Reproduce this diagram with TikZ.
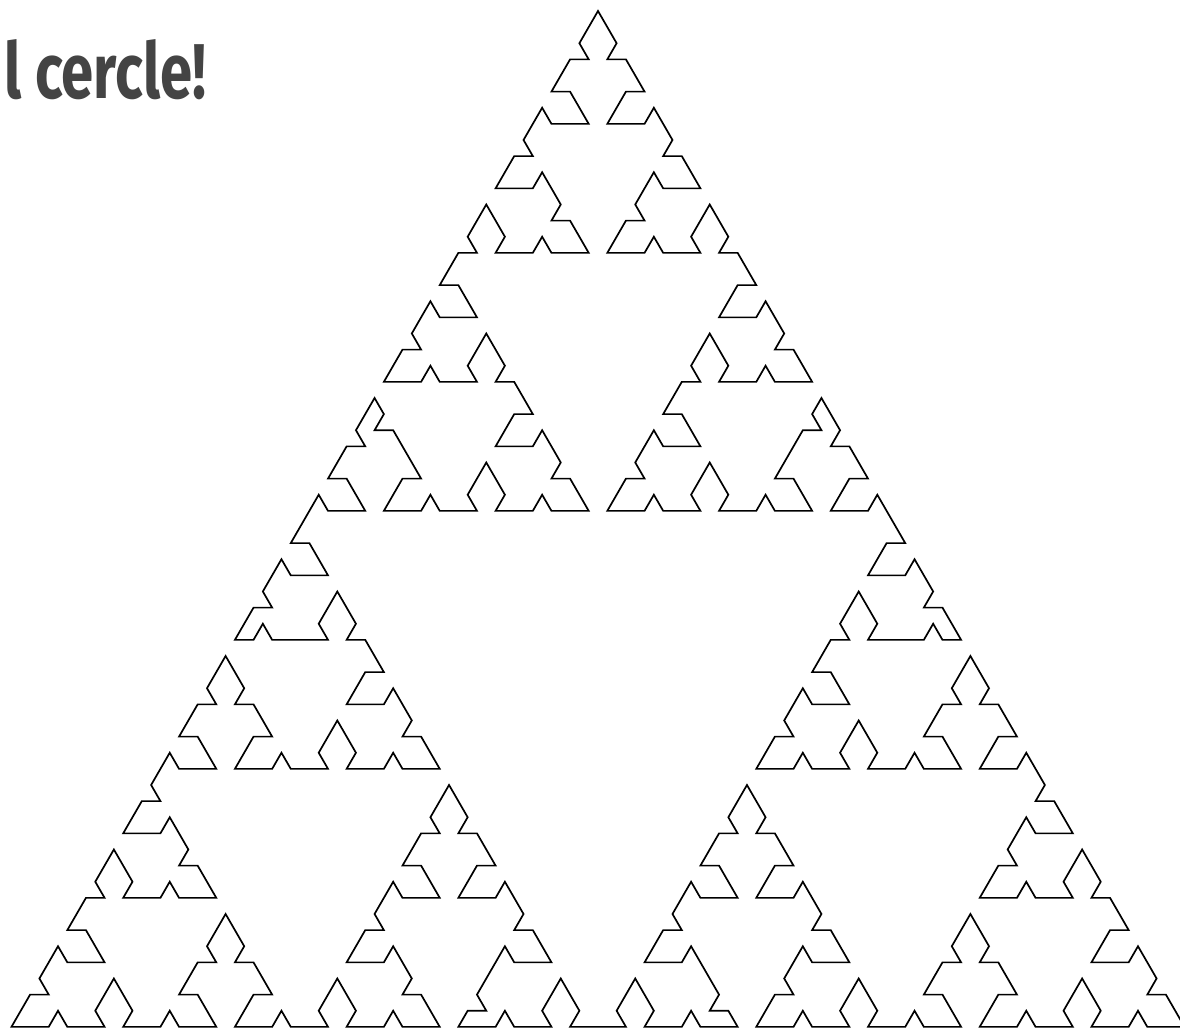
\documentclass[tikz,border=0pt]{standalone}
\usepackage{fontspec}
\newfontfamily\titlefont{Fira Sans}
\definecolor{titlegray}{HTML}{444444}
% ---- turtle on a triangular lattice: x in half-steps, y in rows ----
\newcount\sphd \newcount\spcx \newcount\spcy
\newif\ifspskip
\def\curvepath{}
\def\spmove{%
  \ifcase\sphd
    \global\advance\spcx 2 %
  \or \global\advance\spcx 1 \global\advance\spcy 1 %
  \or \global\advance\spcx -1 \global\advance\spcy 1 %
  \or \global\advance\spcx -2 %
  \or \global\advance\spcx -1 \global\advance\spcy -1 %
  \or \global\advance\spcx 1 \global\advance\spcy -1 %
  \fi}
\def\spfwd{\spmove
  \ifspskip \global\spskipfalse
  \else \xdef\curvepath{\curvepath -- (\the\spcx,\the\spcy)}\fi}
\def\spL{\global\advance\sphd 1 \ifnum\sphd>5 \global\advance\sphd -6 \fi}
\def\spR{\global\advance\sphd -1 \ifnum\sphd<0 \global\advance\sphd 6 \fi}
% step back one unit (the two halves of an edge overlap by one step)
\def\spback{\spL\spL\spL\spmove\spL\spL\spL\global\spskiptrue}
\def\spdn#1#2{\expandafter#1\expandafter{\the\numexpr#2-1\relax}}
% P family
\def\spPA#1{\ifnum#1=0 \spfwd\else\spdn\spPA{#1}\spdn\spQA{#1}\fi}
\def\spPB#1{\ifnum#1=0 \spfwd\else\spdn\spPB{#1}\spdn\spQB{#1}\fi}
\def\spPC#1{\ifnum#1=0 \spfwd\else\spdn\spQC{#1}\spdn\spPC{#1}\fi}
\def\spPD#1{\ifnum#1=0 \spfwd\else\spdn\spQD{#1}\spdn\spPD{#1}\fi}
% Q family
\def\spQA#1{\ifnum#1=0 \spfwd\else\spL\spdn\spQB{#1}\spR\spR\spdn\spRA{#1}\spL\spdn\spPA{#1}\fi}
\def\spQB#1{\ifnum#1=0 \spfwd\else\spR\spdn\spQA{#1}\spL\spL\spdn\spRB{#1}\spR\spdn\spPB{#1}\fi}
\def\spQC#1{\ifnum#1=0 \spfwd\else\spdn\spPC{#1}\spR\spdn\spRC{#1}\spL\spL\spdn\spQD{#1}\spR\fi}
\def\spQD#1{\ifnum#1=0 \spfwd\else\spdn\spPD{#1}\spL\spdn\spRD{#1}\spR\spR\spdn\spQC{#1}\spL\fi}
% R family
\def\spRA#1{\ifnum#1=0 \spfwd\else\spL\spL\spdn\spQB{#1}\spR\spR\spdn\spRA{#1}\spdn\spRD{#1}\spR\spdn\spPA{#1}\spL\fi}
\def\spRB#1{\ifnum#1=0 \spfwd\else\spR\spR\spdn\spQA{#1}\spL\spL\spdn\spRB{#1}\spdn\spRC{#1}\spL\spdn\spPB{#1}\spR\fi}
\def\spRC#1{\ifnum#1=0 \spfwd\else\spR\spdn\spPC{#1}\spL\spdn\spRB{#1}\spdn\spRC{#1}\spL\spL\spdn\spQD{#1}\spR\spR\fi}
\def\spRD#1{\ifnum#1=0 \spfwd\else\spL\spdn\spPD{#1}\spR\spdn\spRA{#1}\spdn\spRD{#1}\spR\spR\spdn\spQC{#1}\spL\spL\fi}
% closed curve: apex -> bottom-left -> bottom-right -> apex
\global\sphd=4
\spPA{5}\spback\spPD{5}\spL\spL
\spPA{5}\spback\spPD{5}\spL\spL
\spPA{5}\spback\spPD{5}
\tikzset{
  curveline/.style={draw=black, line width=1.7pt, line join=miter},
  titletext/.style={anchor=base west, inner sep=0pt, text=titlegray}
}
\begin{document}
\begin{tikzpicture}[x=1pt,y=1pt]
\useasboundingbox (0,0) rectangle (1180,1032);
\fill[white] (0,0) rectangle (1180,1032);
\clip (0,0) rectangle (1180,1032);
\begin{scope}[shift={(598,1021)}]
\edef\spdraw{\noexpand\draw[curveline, x=9.31pt, y=16.125pt] (0,0) \curvepath -- cycle;}
\spdraw
\end{scope}
\node[titletext] (title) at (4,933) {\resizebox{202pt}{59pt}{\titlefont\bfseries l cercle!}};
\end{tikzpicture}
\end{document}
